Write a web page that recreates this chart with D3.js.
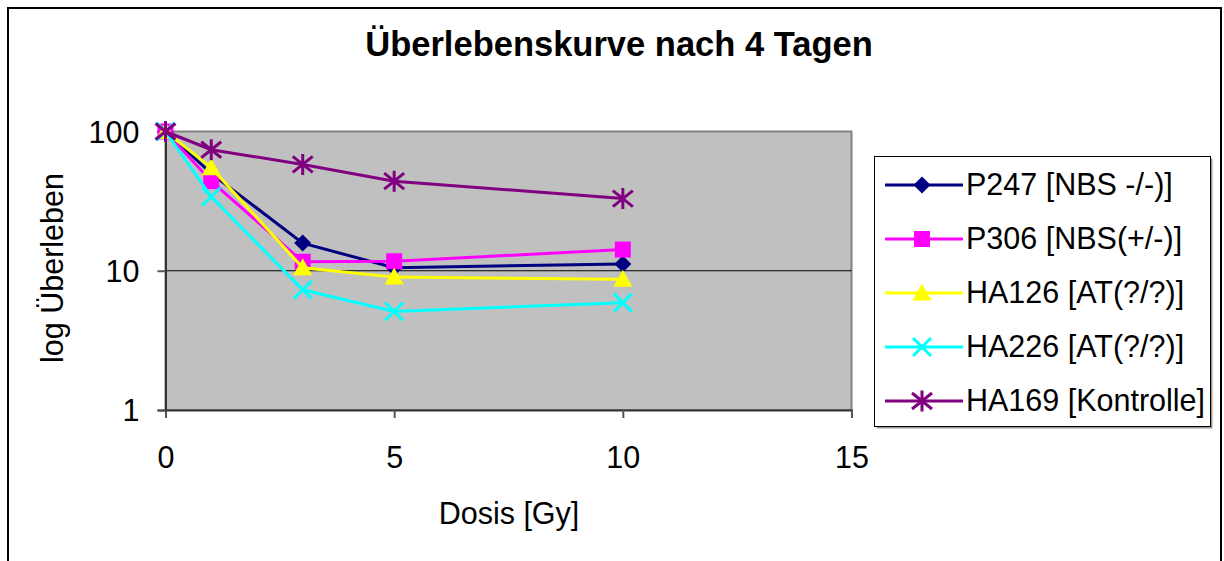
<!DOCTYPE html>
<html>
<head>
<meta charset="utf-8">
<script src="https://cdn.jsdelivr.net/npm/d3@7"></script>
<style>
  body { margin: 0; background: #fff; }
  svg { display: block; font-family: "Liberation Sans", Arial, sans-serif; }
</style>
</head>
<body>
<svg id="chart" width="1224" height="561"></svg>
<script>

// Data
const doses = [0, 1, 3, 5, 10];
const p247 = [100, 50, 15.8, 10.5, 11.2];
const p306 = [100, 44, 11.6, 11.7, 14.2];
const ha126 = [100, 55, 10.5, 9.0, 8.7];
const ha226 = [100, 34, 7.3, 5.1, 5.9];
const ha169 = [100, 74, 58, 44, 33];
const seriesNames = ["P247 [NBS -/-)]", "P306 [NBS(+/-)]", "HA126 [AT(?/?)]", "HA226 [AT(?/?)]", "HA169 [Kontrolle]"];
const xTicks = [0, 5, 10, 15];
const yTicks = [1, 10, 100];

const series = [
  { name: seriesNames[0], values: p247, color: "#000080", marker: "diamond" },
  { name: seriesNames[1], values: p306, color: "#ff00ff", marker: "square" },
  { name: seriesNames[2], values: ha126, color: "#ffff00", marker: "triangle" },
  { name: seriesNames[3], values: ha226, color: "#00ffff", marker: "cross" },
  { name: seriesNames[4], values: ha169, color: "#800080", marker: "star" }
];

const plot = { left: 165.5, right: 851.5, top: 131.5, bottom: 410 };

const svg = d3.select("#chart");

const xScale = d3.scaleLinear()
  .domain([0, 15])
  .range([plot.left, plot.right]);

const yScale = d3.scaleLog()
  .domain([1, 100])
  .range([plot.bottom, plot.top]);

// marker shapes, centred at 0,0
const markerPath = (type) => {
  const p = d3.path();
  if (type === "diamond") {
    p.moveTo(0, -8.5); p.lineTo(8.5, 0); p.lineTo(0, 8.5); p.lineTo(-8.5, 0); p.closePath();
  } else if (type === "square") {
    p.rect(-8, -8, 16, 16);
  } else if (type === "triangle") {
    p.moveTo(0, -9.5); p.lineTo(9.5, 7.5); p.lineTo(-9.5, 7.5); p.closePath();
  } else if (type === "cross") {
    p.moveTo(-9, -9); p.lineTo(9, 9); p.moveTo(9, -9); p.lineTo(-9, 9);
  } else if (type === "star") {
    p.moveTo(-10, -8); p.lineTo(10, 8); p.moveTo(10, -8); p.lineTo(-10, 8);
    p.moveTo(0, -10.5); p.lineTo(0, 10.5);
  }
  return p.toString();
};

const drawMarker = (g, type, color) => {
  const open = type === "cross" || type === "star";
  g.append("path")
    .attr("d", markerPath(type))
    .attr("fill", open ? "none" : color)
    .attr("stroke", color)
    .attr("stroke-width", open ? 3 : 0);
};

// outer frame
svg.append("rect")
  .attr("x", 8)
  .attr("y", 8)
  .attr("width", 1213)
  .attr("height", 600)
  .attr("fill", "#fff")
  .attr("stroke", "#000")
  .attr("stroke-width", 2);

// title
svg.append("text")
  .attr("x", 619)
  .attr("y", 56)
  .attr("text-anchor", "middle")
  .attr("font-size", 34.5)
  .attr("font-weight", "bold")
  .text("Überlebenskurve nach 4 Tagen");

// plot area
svg.append("rect")
  .attr("x", plot.left)
  .attr("y", plot.top)
  .attr("width", plot.right - plot.left)
  .attr("height", plot.bottom - plot.top)
  .attr("fill", "#c0c0c0")
  .attr("stroke", "#808080")
  .attr("stroke-width", 2);

// gridline at 10
svg.append("g")
  .selectAll("line")
  .data(yTicks.filter(d => d > 1 && d < 100))
  .join("line")
    .attr("x1", plot.left)
    .attr("x2", plot.right)
    .attr("y1", d => yScale(d))
    .attr("y2", d => yScale(d))
    .attr("stroke", "#000")
    .attr("stroke-width", 1);

// axes
const xAxis = d3.axisBottom(xScale)
  .tickValues(xTicks)
  .tickSize(8)
  .tickPadding(28)
  .tickFormat(d3.format("d"));

const yAxis = d3.axisLeft(yScale)
  .tickValues(yTicks)
  .tickSize(8)
  .tickPadding(18)
  .tickFormat(d3.format("d"));

const xAxisG = svg.append("g")
  .attr("transform", `translate(0,${plot.bottom})`)
  .call(xAxis);

const yAxisG = svg.append("g")
  .attr("transform", `translate(${plot.left},0)`)
  .call(yAxis);

[xAxisG, yAxisG].forEach(g => {
  g.select(".domain").attr("stroke", "#333").attr("stroke-width", 2);
  g.selectAll(".tick line").attr("stroke", "#555").attr("stroke-width", 2);
  g.selectAll(".tick text")
    .attr("fill", "#000")
    .attr("font-size", 30.5)
    .attr("font-family", "Liberation Sans, Arial, sans-serif");
});
yAxisG.selectAll(".tick text").attr("dy", "0.36em");

// axis titles
svg.append("text")
  .attr("x", 509)
  .attr("y", 524)
  .attr("text-anchor", "middle")
  .attr("font-size", 30.5)
  .text("Dosis [Gy]");

svg.append("text")
  .attr("transform", "translate(63,268) rotate(-90)")
  .attr("text-anchor", "middle")
  .attr("font-size", 30.5)
  .text("log Überleben");

// lines + markers
const line = d3.line()
  .x((d, i) => xScale(doses[i]))
  .y(d => yScale(d));

series.forEach(s => {
  const g = svg.append("g");
  g.append("path")
    .attr("d", line(s.values))
    .attr("fill", "none")
    .attr("stroke", s.color)
    .attr("stroke-width", 3);
  s.values.forEach((v, i) => {
    const m = g.append("g")
      .attr("transform", `translate(${xScale(doses[i])},${yScale(v)})`);
    drawMarker(m, s.marker, s.color);
  });
});

// legend
const legend = { x: 874.5, y: 156.5, w: 336, h: 270 };

svg.append("rect")
  .attr("x", legend.x + 2)
  .attr("y", legend.y + 2)
  .attr("width", legend.w)
  .attr("height", legend.h)
  .attr("fill", "#999");

svg.append("rect")
  .attr("x", legend.x)
  .attr("y", legend.y)
  .attr("width", legend.w)
  .attr("height", legend.h)
  .attr("fill", "#fff")
  .attr("stroke", "#000")
  .attr("stroke-width", 1);

const items = svg.append("g")
  .selectAll(".legend-item")
  .data(series)
  .join("g")
    .attr("class", "legend-item")
    .attr("transform", (d, i) => `translate(0,${185 + i * 54})`);

items.append("line")
  .attr("x1", 885)
  .attr("x2", 963)
  .attr("stroke", d => d.color)
  .attr("stroke-width", 3);

items.each(function(d) {
  const m = d3.select(this).append("g")
    .attr("transform", "translate(922,0)");
  drawMarker(m, d.marker, d.color);
});

items.append("text")
  .attr("x", 966)
  .attr("y", 10)
  .attr("font-size", 30.5)
  .text(d => d.name);

</script>
</body>
</html>
